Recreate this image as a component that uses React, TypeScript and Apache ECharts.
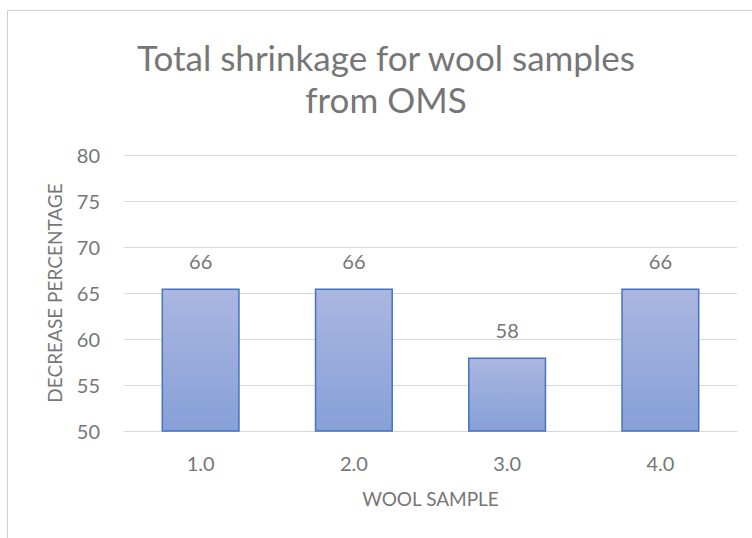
import React, { useEffect, useRef } from "react";
import * as echarts from "echarts";

const categories = ["1.0", "2.0", "3.0", "4.0"];
const values = [65.5, 65.5, 58, 65.5];
const labels = ["66", "66", "58", "66"];
const titleText = "Total shrinkage for wool samples\nfrom OMS";
const yName = "DECREASE PERCENTAGE";
const xName = "WOOL SAMPLE";

const FONT = "Lato, 'Liberation Sans', sans-serif";
const GRAY = "#767676";

export default function App() {
  const ref = useRef<HTMLDivElement>(null);
  useEffect(() => {
    if (!ref.current) return;
    const chart = echarts.init(ref.current, undefined, { renderer: "svg" });
    chart.setOption({
      animation: false,
      backgroundColor: "#ffffff",
      textStyle: { fontFamily: FONT },
      graphic: [
        {
          type: "rect",
          shape: { x: 7, y: 10, width: 1, height: 528 },
          style: { fill: "#cfcfcf" },
          silent: true,
          z: 10,
        },
        {
          type: "rect",
          shape: { x: 7, y: 10, width: 745, height: 1 },
          style: { fill: "#cfcfcf" },
          silent: true,
          z: 10,
        },
      ],
      title: {
        text: titleText,
        left: 381,
        textAlign: "center",
        top: 31,
        textStyle: {
          fontFamily: FONT,
          fontSize: 35,
          fontWeight: "normal",
          color: GRAY,
          lineHeight: 42,
        },
      },
      grid: { left: 124, right: 15, top: 155, bottom: 107, containLabel: false },
      xAxis: {
        type: "category",
        data: categories,
        name: xName,
        nameLocation: "middle",
        nameGap: 58,
        nameTextStyle: { color: GRAY, fontSize: 19, fontFamily: FONT },
        axisLine: { show: true, lineStyle: { color: "#d9d9d9", width: 1 } },
        axisTick: { show: false },
        axisLabel: { color: GRAY, fontSize: 20, margin: 22, fontFamily: FONT },
      },
      yAxis: {
        type: "value",
        min: 50,
        max: 80,
        interval: 5,
        name: yName,
        nameLocation: "middle",
        nameGap: 60,
        nameRotate: 90,
        nameTextStyle: { color: GRAY, fontSize: 19, fontFamily: FONT },
        axisLine: { show: false },
        axisTick: { show: false },
        axisLabel: { color: GRAY, fontSize: 20, margin: 24, fontFamily: FONT },
        splitLine: { lineStyle: { color: "#d9d9d9", width: 1 } },
      },
      series: [
        {
          type: "bar",
          data: values,
          barWidth: "51%",
          itemStyle: {
            color: new echarts.graphic.LinearGradient(0, 0, 0, 1, [
              { offset: 0, color: "#aab7e0" },
              { offset: 1, color: "#87a0d8" },
            ]),
            borderColor: "#4472c4",
            borderWidth: 1.5,
          },
          label: {
            show: true,
            position: "top",
            distance: 17,
            color: GRAY,
            fontSize: 20,
            fontFamily: FONT,
            formatter: (p: any) => labels[p.dataIndex],
          },
        },
      ],
    });
    return () => chart.dispose();
  }, []);
  return (
    <div
      ref={ref}
      style={{ position: "fixed", left: 0, top: 0, width: 752, height: 538 }}
    />
  );
}
